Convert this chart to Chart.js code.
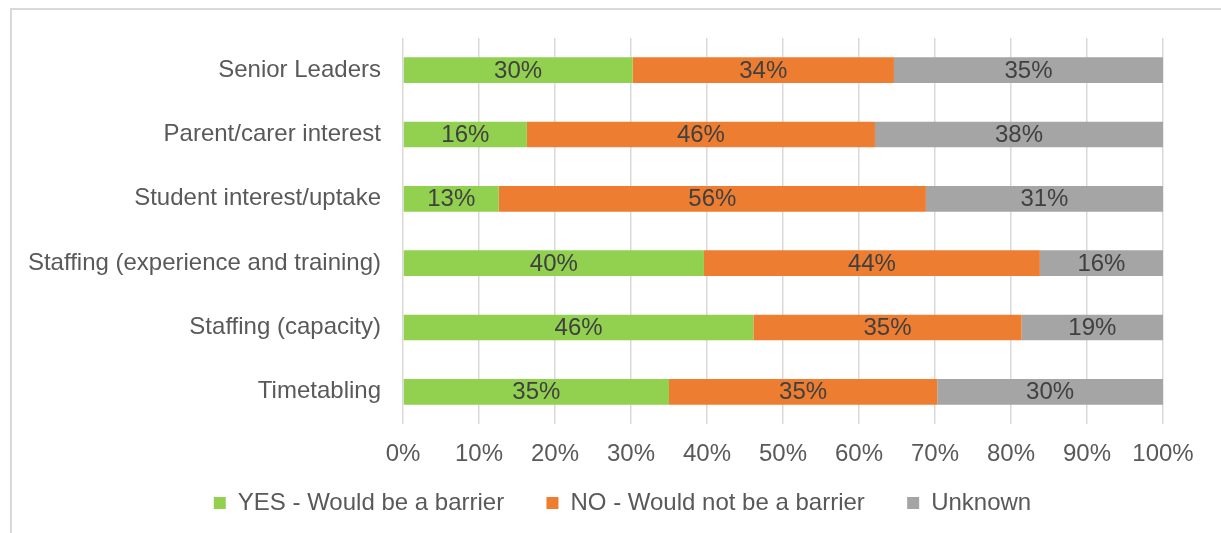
<!DOCTYPE html>
<html>
<head>
<meta charset="utf-8">
<script src="https://cdn.jsdelivr.net/npm/chart.js@4/dist/chart.umd.min.js"></script>
<style>
  html, body { margin: 0; padding: 0; background: #fff; overflow: hidden; }
  #wrap { position: relative; width: 1221px; height: 533px; overflow: hidden; }
  #frame { position: absolute; left: 10px; top: 8px; width: 1300px; height: 600px;
           border-left: 2px solid #d9d9d9; border-top: 2px solid #d9d9d9; }
  #box { position: absolute; left: 0; top: 0; width: 1221px; height: 533px; }
</style>
</head>
<body>
<div id="wrap">
  <div id="frame"></div>
  <div id="box"><canvas id="barChart"></canvas></div>
</div>
<script>
// categories, top to bottom
const categories = [
  "Senior Leaders",
  "Parent/carer interest",
  "Student interest/uptake",
  "Staffing (experience and training)",
  "Staffing (capacity)",
  "Timetabling"
];

// share of responses (%)
const yesValues = [30.2, 16.3, 12.6, 39.6, 46.1, 35.0];
const noValues = [34.4, 45.8, 56.2, 44.2, 35.3, 35.3];
const unknownValues = [35.4, 37.9, 31.2, 16.2, 18.6, 29.7];

const seriesNames = ["YES - Would be a barrier", "NO - Would not be a barrier", "Unknown"];
const seriesColors = ["#92d050", "#ed7d31", "#a5a5a5"];

const textColor = "#595959";
const fontFamily = "'Liberation Sans', Arial, Helvetica, sans-serif";
const fontSize = 24;

// draws the percentage in the middle of each bar segment
const barLabels = {
  id: "barLabels",
  afterDatasetsDraw(chart) {
    const ctx = chart.ctx;
    ctx.save();
    ctx.font = fontSize + "px " + fontFamily;
    ctx.fillStyle = "#404040";
    ctx.textAlign = "center";
    ctx.textBaseline = "middle";
    chart.data.datasets.forEach((ds, i) => {
      const meta = chart.getDatasetMeta(i);
      meta.data.forEach((bar, j) => {
        const p = bar.getCenterPoint();
        ctx.fillText(Math.round(ds.data[j]) + "%", p.x, p.y + 1);
      });
    });
    ctx.restore();
  }
};

const ctx = document.getElementById("barChart").getContext("2d");

new Chart(ctx, {
  type: "bar",
  data: {
    labels: categories,
    datasets: [
      { label: seriesNames[0], data: yesValues, backgroundColor: seriesColors[0] },
      { label: seriesNames[1], data: noValues, backgroundColor: seriesColors[1] },
      { label: seriesNames[2], data: unknownValues, backgroundColor: seriesColors[2] }
    ]
  },
  options: {
    indexAxis: "y",
    responsive: true,
    maintainAspectRatio: false,
    animation: false,
    categoryPercentage: 1,
    barPercentage: 0.4,
    layout: { padding: { top: 38, right: 0, bottom: 8, left: 24 } },
    scales: {
      x: {
        stacked: true,
        min: 0,
        max: 100,
        afterFit: (scale) => { scale.height = 38; },
        border: { display: false },
        grid: { color: "#d9d9d9", lineWidth: 1.5, drawTicks: false },
        ticks: {
          stepSize: 10,
          padding: 16,
          color: textColor,
          font: { size: fontSize, family: fontFamily },
          callback: (v) => v + "%"
        }
      },
      y: {
        stacked: true,
        afterFit: (scale) => { scale.width = 379; },
        border: { display: false },
        grid: { display: false },
        ticks: {
          padding: 14,
          color: textColor,
          font: { size: fontSize, family: fontFamily }
        }
      },
      // empty strip on the right, keeps room for the "100%" label
      yRight: {
        type: "category",
        position: "right",
        afterFit: (scale) => { scale.width = 58; },
        border: { display: false },
        grid: { display: false },
        ticks: { display: false }
      }
    },
    plugins: {
      tooltip: { enabled: false },
      legend: {
        position: "bottom",
        labels: {
          boxWidth: 12,
          boxHeight: 12,
          padding: 29,
          color: textColor,
          font: { size: fontSize, family: fontFamily },
          generateLabels: (chart) => {
            const items = Chart.defaults.plugins.legend.labels.generateLabels(chart);
            // a little extra room after the first two entries
            items.forEach((it, i) => { if (i < items.length - 1) it.text = it.text + "  "; });
            return items;
          }
        }
      }
    }
  },
  plugins: [barLabels]
});
</script>
</body>
</html>
